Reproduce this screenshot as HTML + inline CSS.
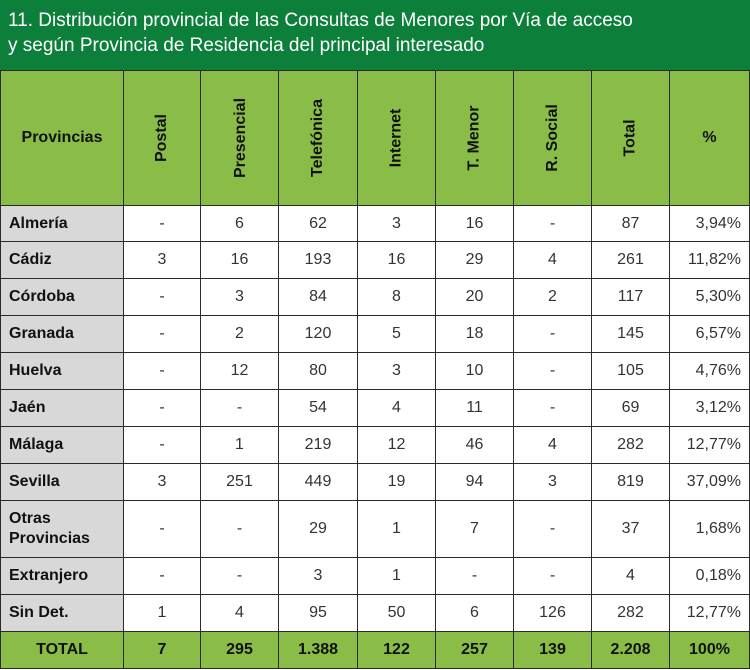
<!DOCTYPE html>
<html><head><meta charset="utf-8">
<style>
body{margin:0;width:750px;height:670px;background:#fff;font-family:"Liberation Sans",sans-serif;overflow:hidden}
#title{position:absolute;left:0;top:0;width:750px;height:70px;background:#0c7f3b;color:#fff;font-size:19px;line-height:25px;padding:8px 0 0 8px;box-sizing:border-box}
table{position:absolute;left:0;top:70px;border-collapse:collapse;table-layout:fixed;width:749px}
td,th{border:1.5px solid #2b2b2b;padding:0;text-align:center;font-size:16px;color:#333;overflow:hidden}
th{background:#8abd47;color:#111;font-weight:bold}
td.p{background:#d8d8d8;text-align:left;padding-left:8px;font-weight:bold;color:#111;line-height:20px}
td.r{text-align:right;padding-right:8px}
tr.tot td{background:#8abd47;font-weight:bold;color:#111}
.v{display:inline-block;transform:rotate(-90deg);white-space:nowrap}
</style></head><body>
<div id="title">11. Distribución provincial de las Consultas de Menores por Vía de acceso<br>y según Provincia de Residencia del principal interesado</div>
<table>
<colgroup><col style="width:123px"><col style="width:77px"><col style="width:78px"><col style="width:79px"><col style="width:78px"><col style="width:78px"><col style="width:78px"><col style="width:78px"><col style="width:80px"></colgroup>
<tr style="height:135px">
<th>Provincias</th>
<th><span class="v">Postal</span></th>
<th><span class="v">Presencial</span></th>
<th><span class="v">Telefónica</span></th>
<th><span class="v">Internet</span></th>
<th><span class="v">T. Menor</span></th>
<th><span class="v">R. Social</span></th>
<th><span class="v">Total</span></th>
<th>%</th>
</tr>
<tbody id="body"></tbody>
</table>
<script>
const provinces=["Almería","Cádiz","Córdoba","Granada","Huelva","Jaén","Málaga","Sevilla","Otras<br>Provincias","Extranjero","Sin Det."];
const postal=["-","3","-","-","-","-","-","3","-","-","1"];
const presencial=["6","16","3","2","12","-","1","251","-","-","4"];
const telefonica=["62","193","84","120","80","54","219","449","29","3","95"];
const internet=["3","16","8","5","3","4","12","19","1","1","50"];
const tmenor=["16","29","20","18","10","11","46","94","7","-","6"];
const rsocial=["-","4","2","-","-","-","4","3","-","-","126"];
const totals=["87","261","117","145","105","69","282","819","37","4","282"];
const pct=["3,94%","11,82%","5,30%","6,57%","4,76%","3,12%","12,77%","37,09%","1,68%","0,18%","12,77%"];
const totalRow=["TOTAL","7","295","1.388","122","257","139","2.208","100%"];
const tb=document.getElementById('body');
provinces.forEach((p,i)=>{
  const tr=document.createElement('tr');
  
  
  tr.style.height=(i===0?36:(i===8?57:37))+'px';
  const vals=[p,postal[i],presencial[i],telefonica[i],internet[i],tmenor[i],rsocial[i],totals[i],pct[i]];
  vals.forEach((v,j)=>{
    const td=document.createElement('td');
    
    
    if(j===0)td.className='p';
    if(j===8)td.className='r';
    td.innerHTML=v;
    tr.appendChild(td);
  });
  tb.appendChild(tr);
});
const tr=document.createElement('tr');
tr.className='tot';
tr.style.height='37px';


totalRow.forEach(v=>{
  const td=document.createElement('td');
  
  
  td.textContent=v;
  tr.appendChild(td);
});
tb.appendChild(tr);
</script>
</body></html>
